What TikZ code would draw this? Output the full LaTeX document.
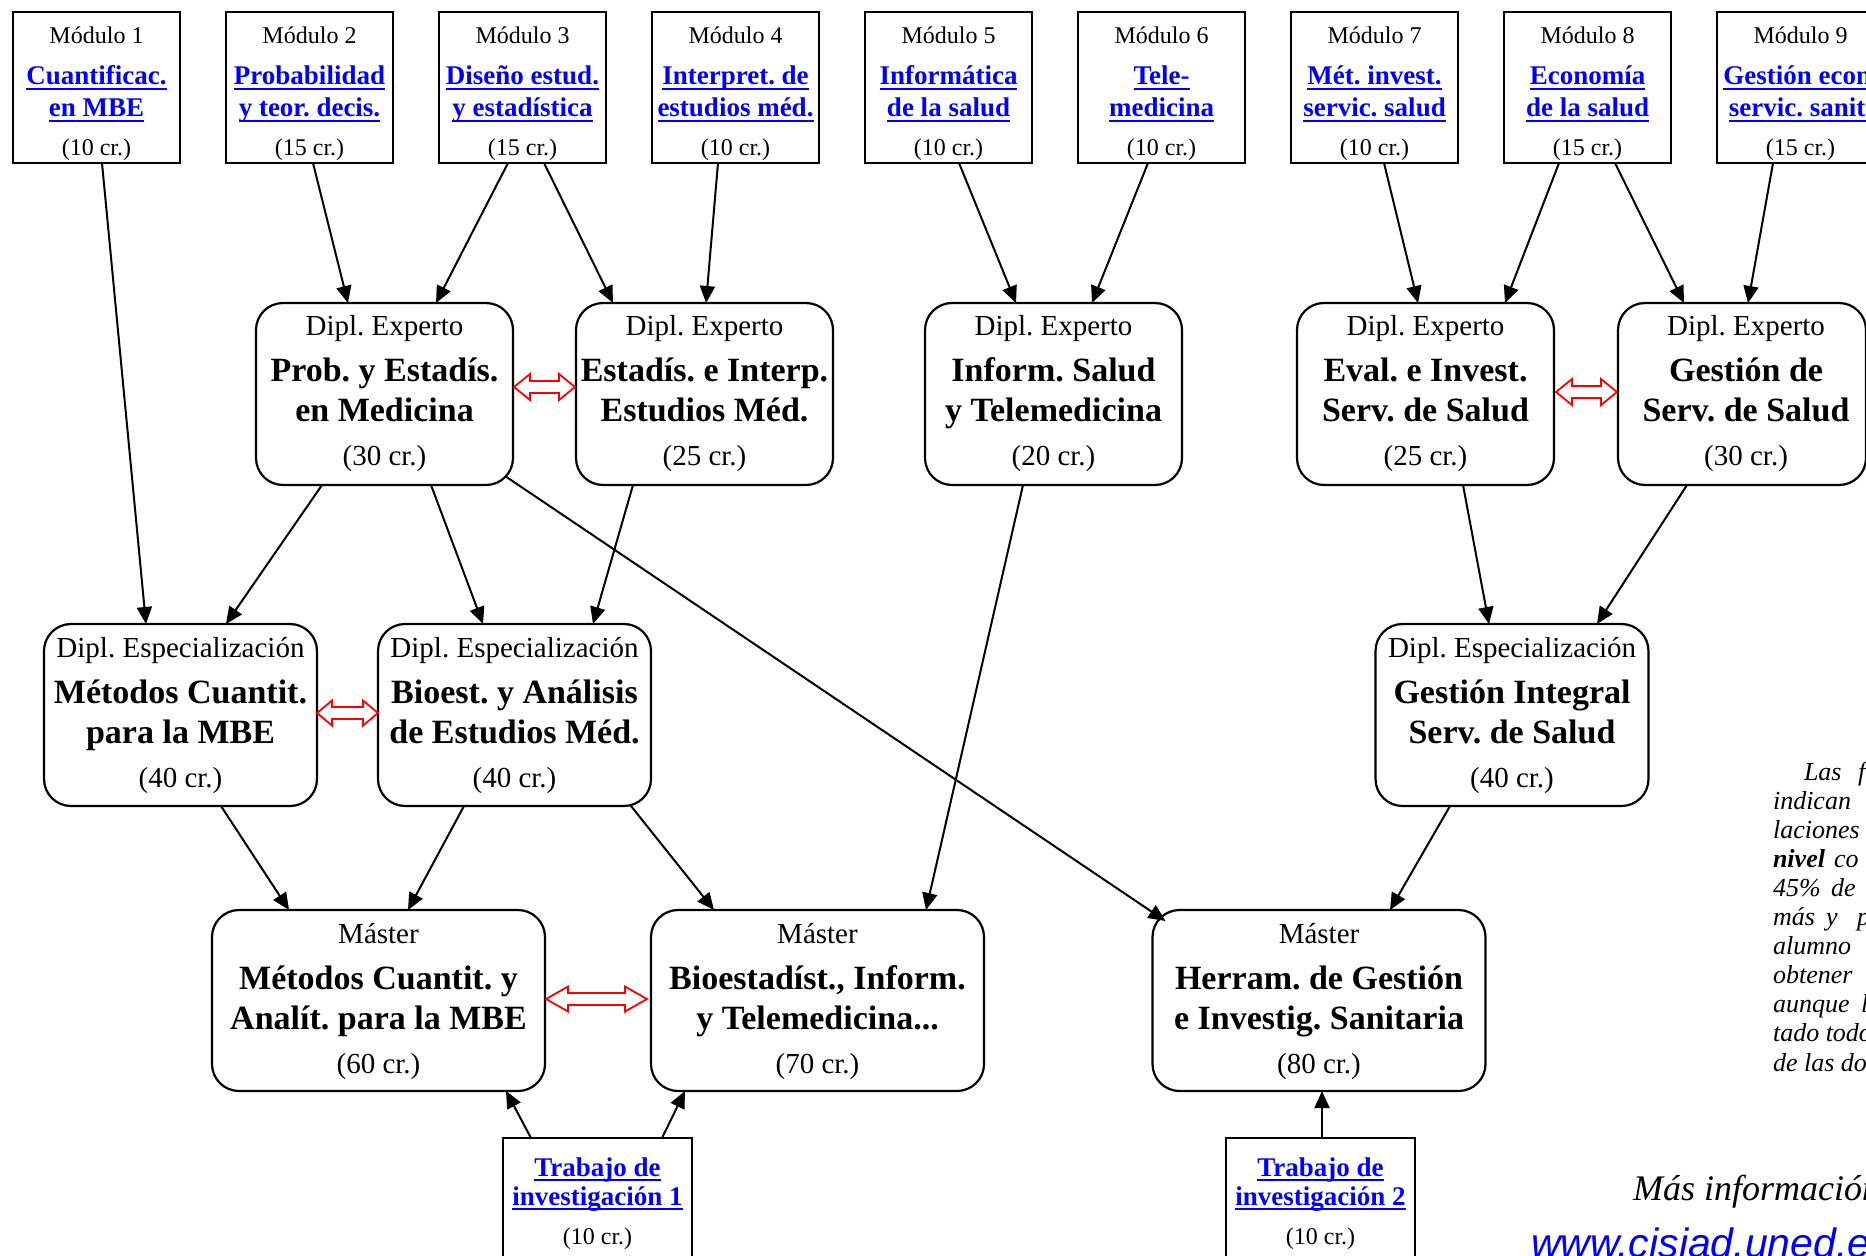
\documentclass[tikz,border=0pt]{standalone}
\usepackage{fontspec}
\setmainfont{Liberation Serif}
\newfontfamily\urlfont{Liberation Sans}
\newcommand\ulx[1]{\setbox0\hbox{#1}\rlap{\rule[-2.7pt]{\wd0}{1.1pt}}\box0}
\usetikzlibrary{arrows.meta,calc}
\definecolor{lnk}{RGB}{0,0,255}
\definecolor{dred}{RGB}{255,0,0}
\tikzset{
  every node/.style={inner sep=0pt,outer sep=0pt},
  bx/.style={draw, line width=1.1pt},
  modbox/.style={bx, minimum width=83.5pt, minimum height=75.5pt},
  rbox/.style={bx, rounded corners=13.5pt, minimum height=91pt},
  pebox/.style={rbox, minimum width=128.5pt},
  debox/.style={rbox, minimum width=136.5pt},
  mabox/.style={rbox, minimum width=166.5pt, minimum height=90.5pt},
  trbox/.style={bx, minimum width=94.5pt, minimum height=71pt},
  arr/.style={line width=1pt, -{Triangle[length=8.5pt,width=7.5pt]}},
  dbl/.style={draw=dred, fill=white, line width=0.9pt, line join=miter},
  modtxt/.style={font=\fontsize{12}{14}\selectfont},
  lnktxt/.style={font=\fontsize{13.5}{16}\selectfont\bfseries, text=lnk},
  subtxt/.style={font=\fontsize{14.5}{17}\selectfont},
  bigtxt/.style={font=\fontsize{17}{20}\selectfont\bfseries},
  notetxt/.style={font=\fontsize{13}{15}\selectfont\itshape, anchor=base west},
}
\newcommand\ModText[5]{%
  \path (#1.north) ++(0,32) node[anchor=base,modtxt]{#2}
        ++(0,41) node[anchor=base,lnktxt]{\ulx{#3}}
        ++(0,32) node[anchor=base,lnktxt]{\ulx{#4}}
        ++(0,39) node[anchor=base,modtxt]{#5};}
\newcommand\BigText[6]{%
  \path ($(#1.north)+(#2,0)$) ++(0,33) node[anchor=base,subtxt]{#3}
        ++(0,46) node[anchor=base,bigtxt]{#4}
        ++(0,40) node[anchor=base,bigtxt]{#5}
        ++(0,44) node[anchor=base,subtxt]{#6};}
\newcommand\TrText[2]{%
  \path (#1.north) ++(0,38) node[anchor=base,lnktxt]{\ulx{Trabajo de}}
        ++(0,29) node[anchor=base,lnktxt]{\ulx{#2}}
        ++(0,39) node[anchor=base,modtxt]{(10 cr.)};}
\newcommand\DblArrow[4]{%
  \draw[dbl] #1 -- ++(#3,-#4) -- ++(0,{#4-6}) -- ++({#2-2*#3},0) -- ++(0,{-(#4-6)})
    -- ++(#3,#4) -- ++(-#3,#4) -- ++(0,{-(#4-6)}) -- ++({-(#2-2*#3)},0) -- ++(0,{#4-6}) -- cycle;}
\begin{document}
\frenchspacing
\begin{tikzpicture}[x=0.5pt,y=-0.5pt]
\useasboundingbox (0,0) rectangle (1866,1256);
\clip (0,0) rectangle (1866,1256);
\fill[white] (0,0) rectangle (1866,1256);
% modules
\node[modbox] (m1) at (96.5,87.5) {};
\node[modbox] (m2) at (309.5,87.5) {};
\node[modbox] (m3) at (522.5,87.5) {};
\node[modbox] (m4) at (735.5,87.5) {};
\node[modbox] (m5) at (948.5,87.5) {};
\node[modbox] (m6) at (1161.5,87.5) {};
\node[modbox] (m7) at (1374.5,87.5) {};
\node[modbox] (m8) at (1587.5,87.5) {};
\node[modbox] (m9) at (1800.5,87.5) {};
\ModText{m1}{Módulo 1}{Cuantificac.}{en MBE}{(10 cr.)}
\ModText{m2}{Módulo 2}{Probabilidad}{y teor. decis.}{(15 cr.)}
\ModText{m3}{Módulo 3}{Diseño estud.}{y estadística}{(15 cr.)}
\ModText{m4}{Módulo 4}{Interpret. de}{estudios méd.}{(10 cr.)}
\ModText{m5}{Módulo 5}{Informática}{de la salud}{(10 cr.)}
\ModText{m6}{Módulo 6}{Tele-}{medicina}{(10 cr.)}
\ModText{m7}{Módulo 7}{Mét. invest.}{servic. salud}{(10 cr.)}
\ModText{m8}{Módulo 8}{Economía}{de la salud}{(15 cr.)}
\ModText{m9}{Módulo 9}{Gestión econ.}{servic. sanit.}{(15 cr.)}
% experto
\node[pebox] (pe1) at (384.5,394) {};
\node[pebox] (pe2) at (704.5,394) {};
\node[pebox] (pe3) at (1053.5,394) {};
\node[pebox] (pe4) at (1425.5,394) {};
\node[pebox, minimum width=124pt] (pe5) at (1742,394) {};
\BigText{pe1}{0}{Dipl. Experto}{Prob. y Estadís.}{en Medicina}{(30 cr.)}
\BigText{pe2}{0}{Dipl. Experto}{Estadís. e Interp.}{Estudios Méd.}{(25 cr.)}
\BigText{pe3}{0}{Dipl. Experto}{Inform. Salud}{y Telemedicina}{(20 cr.)}
\BigText{pe4}{0}{Dipl. Experto}{Eval. e Invest.}{Serv. de Salud}{(25 cr.)}
\BigText{pe5}{4}{Dipl. Experto}{Gestión de}{Serv. de Salud}{(30 cr.)}
% especializacion
\node[debox] (de1) at (180.5,715) {};
\node[debox] (de2) at (514.5,715) {};
\node[debox] (de3) at (1512,715) {};
\BigText{de1}{0}{Dipl. Especialización}{Métodos Cuantit.}{para la MBE}{(40 cr.)}
\BigText{de2}{0}{Dipl. Especialización}{Bioest. y Análisis}{de Estudios Méd.}{(40 cr.)}
\BigText{de3}{0}{Dipl. Especialización}{Gestión Integral}{Serv. de Salud}{(40 cr.)}
% master
\node[mabox] (ma1) at (378.5,1000.5) {};
\node[mabox] (ma2) at (817.5,1000.5) {};
\node[mabox] (ma3) at (1319,1000.5) {};
\BigText{ma1}{0}{Máster}{Métodos Cuantit. y}{Analít. para la MBE}{(60 cr.)}
\BigText{ma2}{0}{Máster}{Bioestadíst., Inform.}{y Telemedicina...}{(70 cr.)}
\BigText{ma3}{0}{Máster}{Herram. de Gestión}{e Investig. Sanitaria}{(80 cr.)}
% trabajos
\node[trbox] (t1) at (597.5,1209) {};
\node[trbox] (t2) at (1320.5,1209) {};
\TrText{t1}{investigación 1}
\TrText{t2}{investigación 2}
% connectors
\draw[arr] ($(m1.south)+(5.5,0)$) -- ($(de1.north)+(-34.5,0)$);
\draw[arr] ($(m2.south)+(3.5,0)$) -- ($(pe1.north)+(-36.5,0)$);
\draw[arr] ($(m3.south)+(-14.5,0)$) -- ($(pe1.north)+(51.5,0)$);
\draw[arr] ($(m3.south)+(21.5,0)$) -- ($(pe2.north)+(-91.5,0)$);
\draw[arr] ($(m4.south)+(-17.5,0)$) -- ($(pe2.north)+(1.5,0)$);
\draw[arr] ($(m5.south)+(10.5,0)$) -- ($(pe3.north)+(-37.5,0)$);
\draw[arr] ($(m6.south)+(-13.5,0)$) -- ($(pe3.north)+(38.5,0)$);
\draw[arr] ($(m7.south)+(9.5,0)$) -- ($(pe4.north)+(-7.5,0)$);
\draw[arr] ($(m8.south)+(-28.5,0)$) -- ($(pe4.north)+(79.5,0)$);
\draw[arr] ($(m8.south)+(27.5,0)$) -- ($(pe5.north)+(-58,0)$);
\draw[arr] ($(m9.south)+(-27.5,0)$) -- ($(pe5.north)+(6,0)$);
\draw[arr] ($(pe1.south)+(-62.5,0)$) -- ($(de1.north)+(45.5,0)$);
\draw[arr] ($(pe1.south)+(46.5,0)$) -- ($(de2.north)+(-31.5,0)$);
\draw[arr] ($(pe2.south)+(-71.5,0)$) -- ($(de2.north)+(78.5,0)$);
\draw[arr] ($(pe1.south east)+(-8,-9)$) -- ($(ma3.north west)+(13,11)$);
\draw[arr] ($(pe3.south)+(-30.5,0)$) -- ($(ma2.north)+(108.5,0)$);
\draw[arr] ($(pe4.south)+(37.5,0)$) -- ($(de3.north)+(-23,0)$);
\draw[arr] ($(pe5.south)+(-55,0)$) -- ($(de3.north)+(85,0)$);
\draw[arr] ($(de1.south)+(40.5,0)$) -- ($(ma1.north)+(-89.5,0)$);
\draw[arr] ($(de2.south)+(-50.5,0)$) -- ($(ma1.north)+(29.5,0)$);
\draw[arr] ($(de2.south)+(116.5,0)$) -- ($(ma2.north)+(-103.5,0)$);
\draw[arr] ($(de3.south)+(-62,0)$) -- ($(ma3.north)+(71,0)$);
\draw[arr] ($(t1.north)+(-66.5,0)$) -- ($(ma1.south)+(127.5,0)$);
\draw[arr] ($(t1.north)+(64.5,0)$) -- ($(ma2.south)+(-132.5,0)$);
\draw[arr] ($(t2.north)+(1.5,0)$) -- ($(ma3.south)+(3,0)$);
% red double arrows
\DblArrow{($(pe1.east)+(1,-7)$)}{61}{16}{13}
\DblArrow{($(pe4.east)+(2,-2)$)}{61}{16}{13}
\DblArrow{($(de1.east)+(0,-2)$)}{61}{15}{12.5}
\DblArrow{($(ma1.east)+(1,-1.5)$)}{101}{22}{12.5}
% side note
\node[notetxt] (n1) at (1804,780) {Las};
\node[notetxt] (n1b) at (1858,780) {f};
\node[notetxt] (n2) at (1773,809.1) {indican};
\node[notetxt] (n3) at (1773,838.2) {laciones};
\node[notetxt] (n4) at (1773,867.3) {\textbf{nivel}};
\node[notetxt] (n4b) at (1834,867.3) {co};
\node[notetxt] (n5) at (1773,896.4) {45\%};
\node[notetxt] (n5b) at (1831,896.4) {de};
\node[notetxt] (n6) at (1773,925.5) {más};
\node[notetxt] (n6b) at (1826,925.5) {y};
\node[notetxt] (n6c) at (1857,925.5) {p};
\node[notetxt] (n7) at (1773,954.6) {alumno};
\node[notetxt] (n8) at (1773,983.7) {obtener};
\node[notetxt] (n9) at (1773,1012.8) {aunque};
\node[notetxt] (n9b) at (1861,1012.8) {l};
\node[notetxt] (n10) at (1773,1041.9) {tado todo};
\node[notetxt] (n11) at (1773,1071) {de las do};
\node[anchor=base west, font=\itshape\fontsize{18}{22}\selectfont] (mas) at (1633,1200) {Más información};
\node[anchor=base west, font=\urlfont\itshape\fontsize{20.5}{24}\selectfont, text=lnk] (url) at (1531,1257) {www.cisiad.uned.es};
\end{tikzpicture}
\end{document}
